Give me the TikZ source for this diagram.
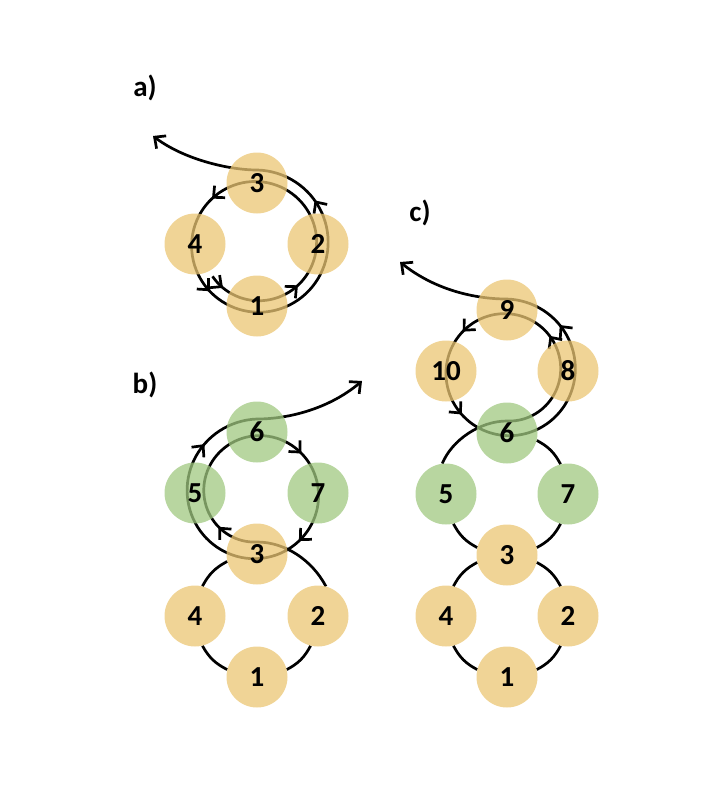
\documentclass[tikz,border=0pt]{standalone}
\usepackage{fontspec}
\setmainfont{Carlito}
\usetikzlibrary{arrows.meta,decorations.markings,backgrounds}
\definecolor{tanfill}{RGB}{235,198,115}
\definecolor{greenfill}{RGB}{160,200,128}
\tikzset{
  ball/.style={circle, fill opacity=0.75, text opacity=1, minimum size=61pt, inner sep=0pt,
    font=\fontsize{29}{33}\selectfont\bfseries},
  tanball/.style={ball, fill=tanfill},
  greenball/.style={ball, fill=greenfill},
  ringarc/.style={line width=2.7pt},
  loopline/.style={line width=2.7pt, ->, postaction={decorate}},
  loopmarks/.style n args={5}{decoration={markings,
    mark=at position #1 with {\arrow{>}},
    mark=at position #2 with {\arrow{>}},
    mark=at position #3 with {\arrow{>}},
    mark=at position #4 with {\arrow{>}},
    mark=at position #5 with {\arrow{>}}}},
  panel/.style={font=\fontsize{29}{34}\selectfont\bfseries},
}
\begin{document}
\begin{tikzpicture}[x=1pt,y=-1pt,>={Straight Barb[length=8.5pt,width=16pt]}]
  \useasboundingbox (0,0) rectangle (723,795);
  % a)
  \node[panel] (la) at (145,88) {a)};
  \node[tanball] (a3) at (257,183) {3};
  \node[tanball] (a4) at (195,244) {4};
  \node[tanball] (a2) at (318,244) {2};
  \node[tanball] (a1) at (257,306) {1};
  % b)
  \node[panel] (lb) at (145,385) {b)};
  \node[greenball] (b6) at (257,432) {6};
  \node[greenball] (b5) at (195,493) {5};
  \node[greenball] (b7) at (318,493) {7};
  \node[tanball] (b3) at (257,554) {3};
  \node[tanball] (b4) at (195,616) {4};
  \node[tanball] (b2) at (318,616) {2};
  \node[tanball] (b1) at (257,677) {1};
  % c)
  \node[panel] (lc) at (420,213) {c)};
  \node[tanball] (c9) at (507,310) {9};
  \node[tanball] (c10) at (446,371) {10};
  \node[tanball] (c8) at (568,371) {8};
  \node[greenball] (c6) at (507,433) {6};
  \node[greenball] (c5) at (446,494) {5};
  \node[greenball] (c7) at (568,494) {7};
  \node[tanball] (c3) at (507,555) {3};
  \node[tanball] (c4) at (446,616) {4};
  \node[tanball] (c2) at (568,616) {2};
  \node[tanball] (c1) at (507,677) {1};

  \begin{scope}[on background layer]
    \coordinate (aout) at (153,136);
    \coordinate (bout) at (362,381);
    \coordinate (cout) at (400,262);
    % spiral a
    \draw[loopline, loopmarks={0.02}{0.125}{0.371}{0.503}{0.771}]
      plot[domain=216:810, samples=150, variable=\t]
        ({257+(55+0.032*(\t-216))*cos(\t)}, {244-(55+0.032*(\t-216))*sin(\t)})
      .. controls (230,170) and (185,160) .. (aout);
    % spiral b
    \draw[loopline, loopmarks={0.165}{0.388}{0.513}{0.777}{0.165}]
      (b2.75) .. controls (312,560) and (285,542) .. (257,542)
      -- plot[domain=2:540, samples=140, variable=\t]
        ({257+(49+0.0463*\t)*cos(-90-\t)}, {493-(49+0.0463*\t)*sin(-90-\t)})
      .. controls (290,419) and (330,408) .. (bout);
    \draw[ringarc] (b4.76) to[bend left=17] (b3.194);
    \draw[ringarc] (b4.284) to[bend right=17] (b1.166);
    \draw[ringarc] (b1.14) to[bend right=17] (b2.256);
    % spiral c
    \draw[loopline, loopmarks={0.26}{0.388}{0.506}{0.772}{0.26}]
      (c5.97) .. controls (452,440) and (480,421) .. (507,421)
      -- plot[domain=2:540, samples=140, variable=\t]
        ({507+(50+0.0407*\t)*cos(-90+\t)}, {371-(50+0.0407*\t)*sin(-90+\t)})
      .. controls (475,299) and (435,290) .. (cout);
    \draw[ringarc] (c6.346) to[bend left=17] (c7.104);
    \draw[ringarc] (c5.284) to[bend right=17] (c3.166);
    \draw[ringarc] (c3.14) to[bend right=17] (c7.256);
    \draw[ringarc] (c3.194) to[bend right=17] (c4.76);
    \draw[ringarc] (c4.284) to[bend right=17] (c1.166);
    \draw[ringarc] (c1.14) to[bend right=17] (c2.256);
    \draw[ringarc] (c2.104) to[bend right=17] (c3.346);
  \end{scope}
\end{tikzpicture}
\end{document}
